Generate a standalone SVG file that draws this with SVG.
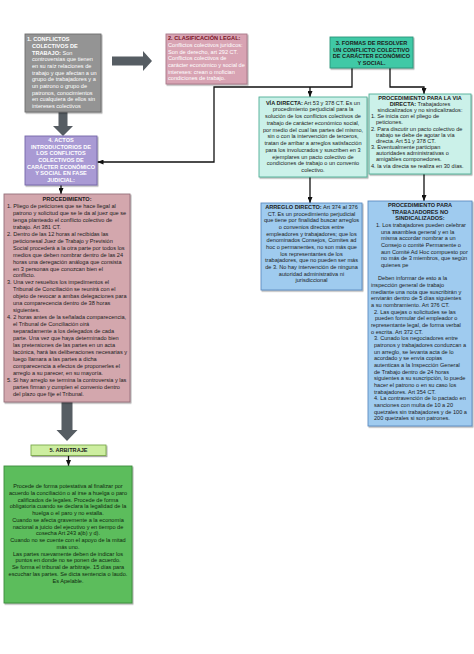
<svg xmlns="http://www.w3.org/2000/svg" width="474" height="654" viewBox="0 0 474 654">
<style>
text{font-family:"Liberation Sans",Arial,sans-serif;font-size:5.6px;fill:#1c1c1c}
.b{font-weight:bold}
.c{text-anchor:middle}
.w{fill:#ffffff}
.box{stroke-width:0.9}
.line{fill:none;stroke:#111;stroke-width:1.3}
.big{fill:#565d63}
</style>
<defs>
<filter id="sh" x="-10%" y="-10%" width="130%" height="130%"><feDropShadow dx="1" dy="1.2" stdDeviation="0.7" flood-color="#000" flood-opacity="0.35"/></filter>
<marker id="ah" viewBox="0 0 6 5" refX="6" refY="2.5" markerWidth="6" markerHeight="5" markerUnits="userSpaceOnUse" orient="auto"><path d="M0,0 L6,2.5 L0,5 z" fill="#111"/></marker>
</defs>

<g id="connectors">
<path class="big" d="M112,56.5 H143 V51 L152,61 L143,71 V65.5 H112 Z"/>
<path class="big" d="M58.5,112 H67.5 V126 H73 L63,136 L53,126 H58.5 Z"/>
<path class="big" d="M61.5,402 H72.5 V430 H77.5 L67,441 L56.5,430 H61.5 Z"/>
<path class="line" d="M352,68 V87 H214 V162 H97.5" marker-end="url(#ah)"/>
<path class="line" d="M310,87 V97" marker-end="url(#ah)"/>
<path class="line" d="M390,68 V87 H424 V94" marker-end="url(#ah)"/>
<path class="line" d="M61,185 V194" marker-end="url(#ah)"/>
<path class="line" d="M310,177 V203" marker-end="url(#ah)"/>
<path class="line" d="M424,174 V201" marker-end="url(#ah)"/>
<path class="line" d="M68.5,455.5 V466" marker-end="url(#ah)"/>
</g>

<g id="n1">
<rect class="box" x="25" y="34" width="76" height="78" fill="#949494" stroke="#6e6e6e" filter="url(#sh)"/>
<text class="w"><tspan class="b" x="27" y="41.3">1. CONFLICTOS</tspan><tspan class="b" x="32" y="48">COLECTIVOS DE</tspan><tspan class="b" x="32" y="54.6">TRABAJO:</tspan><tspan> Son</tspan><tspan x="32" y="61.3">controversias que tienen</tspan><tspan x="32" y="68">en su raíz relaciones de</tspan><tspan x="32" y="74.6">trabajo y que afectan a un</tspan><tspan x="32" y="81.3">grupo de trabajadores y a</tspan><tspan x="32" y="88">un patrono o grupo de</tspan><tspan x="32" y="94.7">patronos, conocimientos</tspan><tspan x="32" y="101.3">en cualquiera de ellos sin</tspan><tspan x="32" y="108">intereses colectivos</tspan></text>
</g>

<g id="n2">
<rect class="box" x="166" y="34" width="81" height="50" fill="#d8a3b3" stroke="#a87888" filter="url(#sh)"/>
<text class="b" x="168" y="40.3" style="fill:#7a1426">2. CLASIFICACIÓN LEGAL:</text>
<text class="w"><tspan x="168" y="47">Conflictos colectivos jurídicos:</tspan><tspan x="168" y="53.6">Son de derecho, art 292 CT.</tspan><tspan x="168" y="60.3">Conflictos colectivos de</tspan><tspan x="168" y="67">carácter económico y social de</tspan><tspan x="168" y="73.6">intereses: crean o mofician</tspan><tspan x="168" y="80.3">condiciones de trabajo.</tspan></text>
</g>

<g id="n3">
<rect class="box" x="330" y="37" width="83" height="31" fill="#40c9a6" stroke="#2a957a" filter="url(#sh)"/>
<text class="b c"><tspan x="371.5" y="45">3. FORMAS DE RESOLVER</tspan><tspan x="371.5" y="51.7">UN CONFLICTO COLECTIVO</tspan><tspan x="371.5" y="58.4">DE CARÁCTER ECONÓMICO</tspan><tspan x="371.5" y="65.1">Y SOCIAL.</tspan></text>
</g>

<g id="n4">
<rect class="box" x="25" y="136" width="72" height="49" fill="#a99ad4" stroke="#7466a8" filter="url(#sh)"/>
<text class="b c w"><tspan x="61" y="142">4. ACTOS</tspan><tspan x="61" y="148.7">INTRODUCTORIOS DE</tspan><tspan x="61" y="155.3">LOS CONFLICTOS</tspan><tspan x="61" y="162">COLECTIVOS DE</tspan><tspan x="61" y="168.7">CARÁCTER ECONÓMICO</tspan><tspan x="61" y="175.3">Y SOCIAL EN FASE</tspan><tspan x="61" y="182">JUDICIAL:</tspan></text>
</g>

<g id="n_proc">
<rect class="box" x="4" y="194" width="126" height="208" fill="#d3a7ad" stroke="#94707a" filter="url(#sh)"/>
<text class="b c" x="67" y="201">PROCEDIMIENTO:</text>
<text><tspan x="7" y="207.95">1. Pliego de peticiones que se hace llegal al</tspan><tspan x="13" y="214.9">patrono y solicitud que se le da al juez que se</tspan><tspan x="13" y="221.85">tenga planteado el conflicto colectivo de</tspan><tspan x="13" y="228.8">trabajo. Art 381 CT.</tspan><tspan x="7" y="235.75">2. Dentro de las 12 horas al recibidas las</tspan><tspan x="13" y="242.7">peticionesal Juez de Trabajo y Previsión</tspan><tspan x="13" y="249.65">Social procederá a la otra parte por todos los</tspan><tspan x="13" y="256.6">medios que deben nombrar dentro de las 24</tspan><tspan x="13" y="263.55">horas una deregación análoga que consista</tspan><tspan x="13" y="270.5">en 3 personas que conozcan bien el</tspan><tspan x="13" y="277.45">conflicto.</tspan><tspan x="7" y="284.4">3. Una vez resueltos los impedimentos el</tspan><tspan x="13" y="291.35">Tribunal de Conciliación se reunirá con el</tspan><tspan x="13" y="298.3">objeto de revocar a ambas delegaciones para</tspan><tspan x="13" y="305.25">una comparecencia dentro de 38 horas</tspan><tspan x="13" y="312.2">siguientes.</tspan><tspan x="7" y="319.15">4. 2 horas antes de la señalada comparecencia,</tspan><tspan x="13" y="326.1">el Tribunal de Conciliación oirá</tspan><tspan x="13" y="333.05">separadamente a los delegados de cada</tspan><tspan x="13" y="340">parte. Una vez que haya determinado bien</tspan><tspan x="13" y="346.95">las pretensiones de las partes en un acta</tspan><tspan x="13" y="353.9">lacónica, hará las deliberaciones necesarias y</tspan><tspan x="13" y="360.85">luego llamara a las partes a dicha</tspan><tspan x="13" y="367.8">comparecencia a efectos de proponerles el</tspan><tspan x="13" y="374.75">arreglo a su parecer, en su mayoría.</tspan><tspan x="7" y="381.7">5. Si hay arreglo se termina la controversia y las</tspan><tspan x="13" y="388.65">partes firman y cumplen el convenio dentro</tspan><tspan x="13" y="395.6">del plazo que fije el Tribunal.</tspan></text>
</g>

<g id="n_via">
<rect class="box" x="259" y="97" width="108" height="80" fill="#cbf1e9" stroke="#4fae96" filter="url(#sh)"/>
<text class="c"><tspan x="313" y="104.7"><tspan class="b">VÍA DIRECTA:</tspan> Art 53 y 378 CT. Es un</tspan><tspan x="313" y="111.45">procedimiento perjudicial para la</tspan><tspan x="313" y="118.2">solución de los conflictos colectivos de</tspan><tspan x="313" y="124.95">trabajo de carácter económico social,</tspan><tspan x="313" y="131.7">por medio del cual las partes del mismo,</tspan><tspan x="313" y="138.45">sin o con la intervención de terceros,</tspan><tspan x="313" y="145.2">tratan de arribar a arreglos satisfacción</tspan><tspan x="313" y="151.95">para los involucrados y suscriben en 3</tspan><tspan x="313" y="158.7">ejemplares un pacto colectivo de</tspan><tspan x="313" y="165.45">condiciones de trabajo o un convenio</tspan><tspan x="313" y="172.2">colectivo.</tspan></text>
</g>

<g id="n_pvia">
<rect class="box" x="369" y="94" width="102" height="80" fill="#cbf1e9" stroke="#4fae96" filter="url(#sh)"/>
<text class="c"><tspan class="b" x="420" y="100">PROCEDIMIENTO PARA LA VIA</tspan><tspan x="420" y="106"><tspan class="b">DIRECTA:</tspan> Trabajadores</tspan><tspan x="420" y="112">sindicalizados y no sindicalizados:</tspan></text>
<text><tspan x="371" y="118">1. Se inicia con el pliego de</tspan><tspan x="376" y="124">peticiones.</tspan><tspan x="371" y="130.7">2. Para discutir  un pacto colectivo de</tspan><tspan x="376" y="136.7">trabajo se debe de agotar la vía</tspan><tspan x="376" y="142.7">directa. Art 51 y 378 CT.</tspan><tspan x="371" y="149.3">3. Eventualmente participan</tspan><tspan x="376" y="155.3">autoridades administrativas o</tspan><tspan x="376" y="161.3">amigables componedores.</tspan><tspan x="371" y="168">4. la vía directa se realiza en 30 días.</tspan></text>
</g>

<g id="n_arr">
<rect class="box" x="261" y="203" width="101" height="87" fill="#9fcbef" stroke="#5c8cc0" filter="url(#sh)"/>
<text class="c"><tspan x="311.5" y="209"><tspan class="b">ARREGLO DIRECTO:</tspan> Art 374 al 376</tspan><tspan x="311.5" y="215.67">CT. Es un procedimiento perjudicial</tspan><tspan x="311.5" y="222.34">que tiene por finalidad buscar arreglos</tspan><tspan x="311.5" y="229">o convenios directos entre</tspan><tspan x="311.5" y="235.68">empleadores y trabajadores; que los</tspan><tspan x="311.5" y="242.35">denominados Consejos, Comites ad</tspan><tspan x="311.5" y="249">hoc o permanentes, no son más que</tspan><tspan x="311.5" y="255.7">los representantes de los</tspan><tspan x="311.5" y="262.36">trabajadores, que no pueden ser más</tspan><tspan x="311.5" y="269">de 3. No hay intervención de ninguna</tspan><tspan x="311.5" y="275.7">autoridad administrativa ni</tspan><tspan x="311.5" y="282.4">jurisdiccional</tspan></text>
</g>

<g id="n_ptrab">
<rect class="box" x="368" y="201" width="104" height="225" fill="#9fcbef" stroke="#5c8cc0" filter="url(#sh)"/>
<text class="b c"><tspan x="420" y="207">PROCEDIMIENTO PARA</tspan><tspan x="420" y="213.67">TRABAJADORES NO</tspan><tspan x="420" y="220.34">SINDICALIZADOS:</tspan></text>
<text><tspan x="376" y="227">1. Los trabajadores pueden celebrar</tspan><tspan x="381" y="233.68">una asamblea general y en la</tspan><tspan x="381" y="240.35">misma accordar nombrar a un</tspan><tspan x="381" y="247">Consejo o comité Permanente o</tspan><tspan x="381" y="253.7">aun Comité Ad Hoc compuesto por</tspan><tspan x="381" y="260.36">no más de 3 miembros, que según</tspan><tspan x="381" y="267">quienes pe</tspan><tspan x="378" y="280.4">Deben informar de esto a la</tspan><tspan x="371" y="287">inspección general de trabajo</tspan><tspan x="371" y="293.7">mediante una nota que suscribirán y</tspan><tspan x="371" y="300.4">enviarán dentro de 5 días siguientes</tspan><tspan x="371" y="307">a su nombramiento. Art 376 CT.</tspan><tspan x="374" y="313.7">2. Las quejas o solicitudes se las</tspan><tspan x="375" y="320.4">pueden formular del empleador o</tspan><tspan x="371" y="327">representante legal, de forma verbal</tspan><tspan x="371" y="333.7">o escrita. Art 372 CT.</tspan><tspan x="374" y="340.4">3. Cunado los negociadores entre</tspan><tspan x="374" y="347">patronos y trabajadores conduzcan a</tspan><tspan x="374" y="353.7">un arreglo, se levanta acta de lo</tspan><tspan x="374" y="360.4">acordado y se envía copias</tspan><tspan x="374" y="367">autenticas a la Inspección General</tspan><tspan x="374" y="373.7">de Trabajo dentro de 24 horas</tspan><tspan x="374" y="380.4">siguientes a su suscripción, lo puede</tspan><tspan x="374" y="387">hacer el patrono o en su caso los</tspan><tspan x="374" y="393.7">trabajadores. Art 354 CT.</tspan><tspan x="374" y="400.4">4. La contravención de lo pactado en</tspan><tspan x="374" y="407">sanciones con multa de 10 a 20</tspan><tspan x="374" y="413.7">quetzales sin trabajadores y de 100 a</tspan><tspan x="374" y="420.4">200  quetzales si son patrones.</tspan></text>
</g>

<g id="n_arb">
<rect class="box" x="31" y="445" width="75" height="10.5" fill="#cdeea0" stroke="#7aa84a" filter="url(#sh)"/>
<text class="b c" x="68.5" y="452.3">5. ARBITRAJE</text>
</g>

<g id="n_green">
<rect class="box" x="4" y="466" width="128" height="137" fill="#5cbd5c" stroke="#3c8c3c" filter="url(#sh)"/>
<text class="c" style="fill:#10280f"><tspan x="68" y="488">Procede de forma potestativa al finalizar por</tspan><tspan x="68" y="494.75">acuerdo la conciliación o al irse a huelga o paro</tspan><tspan x="68" y="501.5">calificados de legales. Procede de forma</tspan><tspan x="68" y="508.25">obligatoria cuando se declara la legalidad de la</tspan><tspan x="68" y="515">huelga o el paro y no estalla.</tspan><tspan x="68" y="521.75">Cuando se afecta gravemente a la economía</tspan><tspan x="68" y="528.5">nacional a juicio del ejecutivo y en tiempo de</tspan><tspan x="68" y="535.25">cosecha Art 243 a)b) y d).</tspan><tspan x="68" y="542">Cuando no se cuente con el apoyo de la mitad</tspan><tspan x="68" y="548.75">más uno.</tspan><tspan x="68" y="555.5">Las partes nuevamente deben de indicar los</tspan><tspan x="68" y="562.25">puntos en donde no se ponen de acuerdo.</tspan><tspan x="68" y="569">Se forma el tribunal de arbitraje. 15 días para</tspan><tspan x="68" y="575.75">escuchar las partes. Se dicta sentencia o laudo.</tspan><tspan x="68" y="582.5">Es Apelable.</tspan></text>
</g>
</svg>
